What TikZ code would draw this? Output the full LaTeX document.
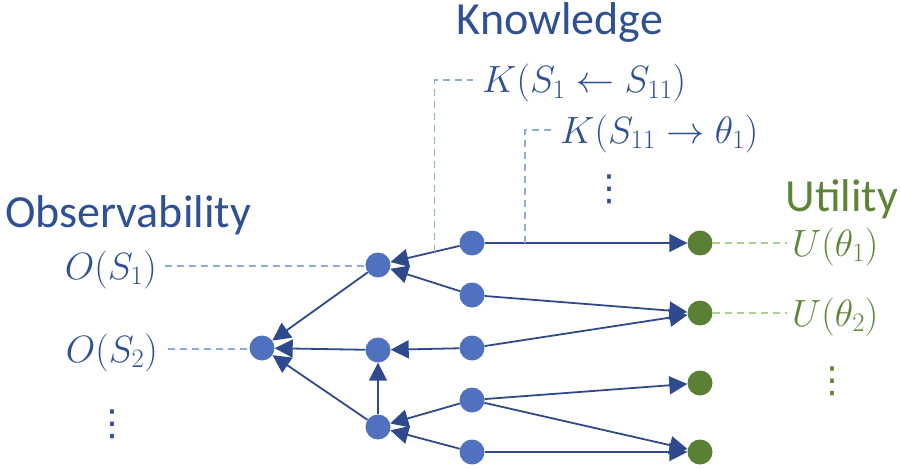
\RequirePackage{fix-cm}
\documentclass[tikz,border=0pt]{standalone}
\usepackage{fontspec}
\newfontfamily\headfont{Carlito}
\newfontfamily\symfont{DejaVu Sans}
\usetikzlibrary{arrows.meta,calc}
\definecolor{nodeblue}{HTML}{4F71BE}
\definecolor{edgeblue}{HTML}{2F4A8C}
\definecolor{textblue}{HTML}{2F5095}
\definecolor{nodegreen}{HTML}{5B7F35}
\definecolor{textgreen}{HTML}{5E8536}
\definecolor{dashblue}{HTML}{8FAADC}
\definecolor{dashgreen}{HTML}{A9D18E}
\begin{document}
\begin{tikzpicture}[x=1pt,y=-1pt,
  bnode/.style={circle,fill=nodeblue,minimum size=25pt,inner sep=0pt},
  gnode/.style={circle,fill=nodegreen,minimum size=25pt,inner sep=0pt},
  edge/.style={draw=edgeblue,line width=1.8pt,-{Triangle[length=18pt,width=18pt]}},
  bdash/.style={draw=dashblue,line width=1.4pt,dash pattern=on 7pt off 5pt},
  gdash/.style={draw=dashgreen,line width=1.4pt,dash pattern=on 7pt off 5pt},
  bhead/.style={text=textblue,font=\headfont\fontsize{46}{52}\selectfont,inner sep=0pt,anchor=base},
  ghead/.style={text=textgreen,font=\headfont\fontsize{46}{52}\selectfont,inner sep=0pt,anchor=base},
  bmath/.style={text=textblue,font=\fontsize{38}{44}\selectfont,inner sep=0pt},
  gmath/.style={text=textgreen,font=\fontsize{38}{44}\selectfont,inner sep=0pt},
  bdots/.style={text=textblue,font=\symfont\fontsize{36}{40}\selectfont,inner sep=0pt},
  gdots/.style={text=textgreen,font=\symfont\fontsize{36}{40}\selectfont,inner sep=0pt}]
\useasboundingbox (0,0) rectangle (901,468);
% nodes
\node[bnode] (R) at (262,348) {};
\node[bnode] (A1) at (378,265) {};
\node[bnode] (A2) at (378,350) {};
\node[bnode] (A3) at (378,427) {};
\node[bnode] (B1) at (472,243) {};
\node[bnode] (B2) at (472,295) {};
\node[bnode] (B3) at (472,348) {};
\node[bnode] (B4) at (472,400) {};
\node[bnode] (B5) at (472,452) {};
\node[gnode] (G1) at (700,243) {};
\node[gnode] (G2) at (700,313) {};
\node[gnode] (G3) at (700,383) {};
\node[gnode] (G4) at (700,452) {};
% edges
\draw[edge] (B1) -- (A1);
\draw[edge] (B2) -- (A1);
\draw[edge] (B3) -- (A2);
\draw[edge] (B4) -- (A3);
\draw[edge] (B5) -- (A3);
\draw[edge] (A3) -- (A2);
\draw[edge] (A1) -- (R);
\draw[edge] (A2) -- (R);
\draw[edge] (A3) -- (R);
\draw[edge] (B1) -- (G1);
\draw[edge] (B2) -- (G2);
\draw[edge] (B3) -- (G2);
\draw[edge] (B4) -- (G3);
\draw[edge] (B4) -- (G4);
\draw[edge] (B5) -- (G4);
% headings
\node[bhead] (know) at (560,35) {Knowledge};
\node[bhead] (obs) at (128,227) {Observability};
\node[ghead] (util) at (842,211) {Utility};
% labels
\node[bmath,anchor=base east] (O1) at (157,279) {$O(S_1)$};
\node[bmath,anchor=base east] (O2) at (158,362) {$O(S_2)$};
\node[bdots] (Od) at (112,424) {⋮};
\node[bmath,anchor=base west] (K1) at (482,93) {$K(S_1 \leftarrow S_{11})$};
\node[bmath,anchor=base west] (K2) at (560,143) {$K(S_{11} \rightarrow \theta_1)$};
\node[bdots] (Kd) at (609,189) {⋮};
\node[gmath,anchor=base west] (U1) at (792,256) {$U(\theta_1)$};
\node[gmath,anchor=base west] (U2) at (792,326) {$U(\theta_2)$};
\node[gdots] (Ud) at (832,381) {⋮};
% dashed leaders
\coordinate (o1s) at (165,266);
\coordinate (o2s) at (168,349);
\draw[bdash] (o1s) -- (o1s -| A1.west);
\draw[bdash] (o2s) -- (o2s -| R.west);
\coordinate (k1b) at ($(B1)!0.40!(A1)$);
\coordinate (k1t) at (473,80);
\draw[bdash] (k1b) |- (k1t);
\coordinate (k2b) at (525,243);
\coordinate (k2t) at (553,130);
\draw[bdash] (k2b) |- (k2t);
\coordinate (u1e) at (787,243);
\coordinate (u2e) at (787,313);
\draw[gdash] (G1.east) -- (u1e);
\draw[gdash] (G2.east) -- (u2e);
\end{tikzpicture}
\end{document}
